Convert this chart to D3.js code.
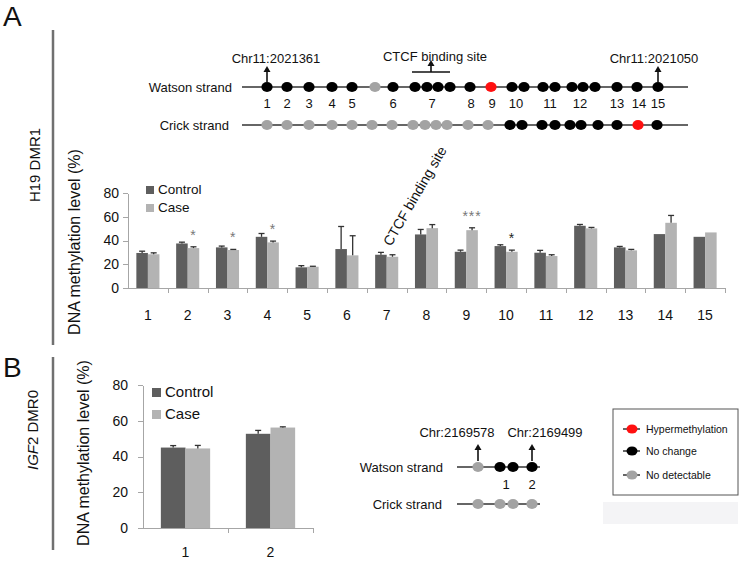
<!DOCTYPE html>
<html>

<head>
  <meta charset="utf-8" />
  <script src="https://cdn.jsdelivr.net/npm/d3@7/dist/d3.min.js"></script>
  <style>
    body {
      margin: 0;
      background: #fff;
    }

    svg text {
      font-family: Arial, "Liberation Sans", sans-serif;
      fill: #111;
    }

    .axis path,
    .axis line {
      stroke: #a6a6a6;
      shape-rendering: crispEdges;
    }

    .strand {
      stroke: #333;
      stroke-width: 1.5px;
    }
  </style>
</head>

<body>
</body>
<script>
  "use strict";

  // H19 DMR1 bar data (CpG sites 1-15)
  var sitesA = ["1", "2", "3", "4", "5", "6", "7", "8", "9", "10", "11", "12", "13", "14", "15"];
  var controlA = [29.5, 37.5, 34.2, 43.1, 17.4, 32.8, 28.0, 45.1, 30.5, 35.3, 29.7, 52.4, 34.2, 45.4, 43.1];
  var controlErrA = [1.5, 1.1, 1.1, 2.8, 1.4, 19.0, 2.0, 4.2, 1.4, 1.1, 2.0, 1.1, 0.8, 0, 0];
  var caseA = [28.4, 33.6, 32.0, 38.4, 17.9, 27.5, 26.3, 50.4, 48.7, 30.5, 26.9, 50.2, 31.7, 54.9, 46.8];
  var caseErrA = [1.2, 1.1, 0.5, 1.1, 0.4, 16.5, 1.7, 3.0, 2.0, 1.4, 1.1, 0.8, 0.8, 6.2, 0];
  var starsA = ["", "*", "*", "*", "", "", "", "", "***", "*", "", "", "", "", ""];

  // IGF2 DMR0 bar data
  var sitesB = ["1", "2"];
  var controlB = [45.0, 52.7];
  var controlErrB = [1.1, 1.9];
  var caseB = [44.5, 56.2];
  var caseErrB = [1.7, 0.4];

  var yTicks = [0, 20, 40, 60, 80];

  // CpG maps: relative position along the strand and status
  // h = hypermethylation, n = no change, g = no detectable
  var h19WatsonPos = [0, 20, 42, 65, 85, 108, 126, 148, 160, 171, 183, 203, 224, 245, 257, 276, 288, 305, 316, 328, 350, 370, 391];
  var h19WatsonStatus = ["n", "n", "n", "n", "n", "g", "n", "n", "n", "n", "n", "n", "h", "n", "n", "n", "n", "n", "n", "n", "n", "n", "n"];
  var h19CrickPos = [0, 20, 42, 65, 85, 105, 125, 146, 158, 169, 180, 201, 221, 243, 255, 275, 288, 303, 314, 331, 350, 371, 390];
  var h19CrickStatus = ["g", "g", "g", "g", "g", "g", "g", "g", "g", "g", "g", "g", "g", "n", "n", "n", "n", "n", "n", "n", "n", "h", "n"];
  var h19LabelPos = [0, 20, 42, 65, 85, 126, 165, 204, 225, 249, 283, 313, 350, 372, 391];

  var igfWatsonPos = [0, 22, 35, 54];
  var igfWatsonStatus = ["g", "n", "n", "n"];
  var igfCrickPos = [0, 22, 35, 54];
  var igfCrickStatus = ["g", "g", "g", "g"];
  var igfLabels = ["1", "2"];
  var igfLabelPos = [28, 54];

  var legendItems = ["Hypermethylation", "No change", "No detectable"];
  var legendStatus = ["h", "n", "g"];

  var statusColor = {
    h: "#ff1010",
    n: "#000",
    g: "#a3a3a3"
  };
  var controlColor = "#5e5e5e",
    caseColor = "#b3b3b3";

  var svg = d3.select("body")
    .append("svg")
    .attr("width", 742)
    .attr("height", 564);

  svg.append("rect").attr("width", 742).attr("height", 564).attr("fill", "#fff");

  // panel letters, side bars and side titles
  svg.append("text").attr("x", 3).attr("y", 26).style("font-size", "28px").text("A");
  svg.append("text").attr("x", 3).attr("y", 377).style("font-size", "28px").text("B");

  svg.append("line").attr("x1", 53).attr("x2", 53).attr("y1", 30).attr("y2", 345)
    .attr("stroke", "#707070").attr("stroke-width", 2.5);
  svg.append("line").attr("x1", 53).attr("x2", 53).attr("y1", 357).attr("y2", 550)
    .attr("stroke", "#707070").attr("stroke-width", 2.5);

  svg.append("text")
    .attr("transform", "translate(40,165) rotate(-90)")
    .attr("text-anchor", "middle")
    .style("font-size", "15px")
    .text("H19 DMR1");

  var igfTitle = svg.append("text")
    .attr("transform", "translate(38,430) rotate(-90)")
    .attr("text-anchor", "middle")
    .style("font-size", "15px");
  igfTitle.append("tspan").style("font-style", "italic").text("IGF");
  igfTitle.append("tspan").text("2 DMR0");

  // ---------- CpG strand maps ----------
  function arrowUp(g, x, y1, y2) {
    g.append("line").attr("x1", x).attr("x2", x).attr("y1", y1).attr("y2", y2 + 4)
      .attr("stroke", "#111").attr("stroke-width", 1.6);
    g.append("path")
      .attr("d", "M" + (x - 3.5) + "," + (y2 + 6) + " L" + x + "," + y2 + " L" + (x + 3.5) + "," + (y2 + 6) + " Z")
      .attr("fill", "#111");
  }

  function strand(g, scale, y, pos, status, label, labelX) {
    g.append("line").attr("class", "strand")
      .attr("x1", scale.range()[0]).attr("x2", scale.range()[1])
      .attr("y1", y).attr("y2", y);
    g.selectAll(null)
      .data(pos)
      .enter()
      .append("ellipse")
      .attr("cx", function(d) {
        return scale(d);
      })
      .attr("cy", y)
      .attr("rx", 5.6)
      .attr("ry", 5)
      .attr("fill", function(d, i) {
        return statusColor[status[i]];
      });
    g.append("text")
      .attr("x", labelX)
      .attr("y", y + 5)
      .attr("text-anchor", "end")
      .style("font-size", "13px")
      .text(label);
  }

  var mapA = svg.append("g");
  var xMapA = d3.scaleLinear().domain([-25, 421]).range([242, 688]);

  strand(mapA, xMapA, 87, h19WatsonPos, h19WatsonStatus, "Watson strand", 232);
  strand(mapA, xMapA, 125, h19CrickPos, h19CrickStatus, "Crick strand", 229);

  mapA.selectAll(null)
    .data(h19LabelPos)
    .enter()
    .append("text")
    .attr("x", function(d) {
      return xMapA(d);
    })
    .attr("y", 108)
    .attr("text-anchor", "middle")
    .style("font-size", "13px")
    .text(function(d, i) {
      return sitesA[i];
    });

  arrowUp(mapA, xMapA(0), 82, 66);
  mapA.append("text").attr("x", xMapA(0) + 9).attr("y", 63).attr("text-anchor", "middle")
    .style("font-size", "13px").text("Chr11:2021361");

  arrowUp(mapA, xMapA(391), 82, 66);
  mapA.append("text").attr("x", xMapA(391) - 4).attr("y", 63).attr("text-anchor", "middle")
    .style("font-size", "13px").text("Chr11:2021050");

  mapA.append("line").attr("x1", xMapA(145)).attr("x2", xMapA(183)).attr("y1", 72).attr("y2", 72)
    .attr("stroke", "#111").attr("stroke-width", 1.4);
  arrowUp(mapA, xMapA(164), 72, 60);
  mapA.append("text").attr("x", xMapA(168)).attr("y", 61).attr("text-anchor", "middle")
    .style("font-size", "13px").text("CTCF binding site");

  var mapB = svg.append("g");
  var xMapB = d3.scaleLinear().domain([-21, 62]).range([457, 540]);

  strand(mapB, xMapB, 467, igfWatsonPos, igfWatsonStatus, "Watson strand", 443);
  strand(mapB, xMapB, 504, igfCrickPos, igfCrickStatus, "Crick strand", 442);

  mapB.selectAll(null)
    .data(igfLabelPos)
    .enter()
    .append("text")
    .attr("x", function(d) {
      return xMapB(d);
    })
    .attr("y", 489)
    .attr("text-anchor", "middle")
    .style("font-size", "13px")
    .text(function(d, i) {
      return igfLabels[i];
    });

  arrowUp(mapB, xMapB(0), 461, 444);
  mapB.append("text").attr("x", xMapB(0) - 21).attr("y", 437).attr("text-anchor", "middle")
    .style("font-size", "13px").text("Chr:2169578");
  arrowUp(mapB, xMapB(54), 461, 444);
  mapB.append("text").attr("x", xMapB(54) + 13).attr("y", 437).attr("text-anchor", "middle")
    .style("font-size", "13px").text("Chr:2169499");

  // status legend
  var leg = svg.append("g");
  leg.append("rect").attr("x", 613).attr("y", 409).attr("width", 125).attr("height", 86)
    .attr("fill", "#fff").attr("stroke", "#555").attr("stroke-width", 1);
  leg.append("rect").attr("x", 603).attr("y", 502).attr("width", 135).attr("height", 22)
    .attr("fill", "#f4f4f6");
  var legItem = leg.selectAll("g.item")
    .data(legendItems)
    .enter()
    .append("g")
    .attr("class", "item")
    .attr("transform", function(d, i) {
      return "translate(632," + [429, 451, 475][i] + ")";
    });
  legItem.append("line").attr("x1", -9).attr("x2", 8).attr("stroke", "#333").attr("stroke-width", 1.5);
  legItem.append("ellipse").attr("rx", 5.5).attr("ry", 4.5)
    .attr("fill", function(d, i) {
      return statusColor[legendStatus[i]];
    });
  legItem.append("text").attr("x", 14).attr("y", 4).style("font-size", "10.5px")
    .text(function(d) {
      return d;
    });

  // ---------- bar charts ----------
  function barChart(opt) {
    var g = svg.append("g");
    var x = d3.scaleBand().domain(opt.sites).range([opt.x0, opt.x1]);
    var sub = d3.scaleBand().domain(["control", "case"])
      .range([x.bandwidth() * 0.21, x.bandwidth() * 0.79]);
    var y = d3.scaleLinear().domain([0, 80]).range([opt.y0, opt.y1]);
    var edge = d3.scaleLinear().domain([0, opt.sites.length]).range([opt.x0, opt.x1]);

    g.append("g")
      .attr("class", "axis")
      .attr("transform", "translate(" + opt.x0 + ",0)")
      .call(d3.axisLeft(y).tickValues(yTicks).tickSize(5).tickSizeOuter(0).tickPadding(opt.tickPad))
      .selectAll("text")
      .style("font-size", opt.tickFont)
      .attr("fill", "#111");

    g.append("g")
      .attr("class", "axis")
      .attr("transform", "translate(0," + opt.y0 + ")")
      .call(d3.axisBottom(edge).tickValues(d3.range(1, opt.sites.length + 1)).tickSize(5)
        .tickSizeOuter(0).tickFormat(""));

    var lab = g.append("g")
      .attr("transform", "translate(0," + opt.y0 + ")")
      .call(d3.axisBottom(x).tickSize(0).tickPadding(opt.labelPad));
    lab.select(".domain").remove();
    lab.selectAll("text").style("font-size", "14px").attr("fill", "#111");

    var rows = [];
    opt.sites.forEach(function(s, i) {
      rows.push({ site: s, key: "control", v: opt.control[i], e: opt.controlErr[i] });
      rows.push({ site: s, key: "case", v: opt.caseV[i], e: opt.caseErr[i] });
    });

    g.selectAll("rect.bar")
      .data(rows)
      .enter()
      .append("rect")
      .attr("class", "bar")
      .attr("x", function(d) {
        return x(d.site) + sub(d.key);
      })
      .attr("width", sub.bandwidth())
      .attr("y", function(d) {
        return y(d.v);
      })
      .attr("height", function(d) {
        return y(0) - y(d.v);
      })
      .attr("fill", function(d) {
        return d.key === "control" ? controlColor : caseColor;
      });

    var err = g.selectAll("g.err")
      .data(rows.filter(function(d) {
        return d.e > 0;
      }))
      .enter()
      .append("g")
      .attr("class", "err")
      .attr("transform", function(d) {
        return "translate(" + (x(d.site) + sub(d.key) + sub.bandwidth() / 2) + ",0)";
      });
    err.append("line")
      .attr("y1", function(d) {
        return y(d.v);
      })
      .attr("y2", function(d) {
        return y(d.v + d.e);
      })
      .attr("stroke", "#333").attr("stroke-width", 1.3);
    err.append("line")
      .attr("x1", -3).attr("x2", 3)
      .attr("y1", function(d) {
        return y(d.v + d.e);
      })
      .attr("y2", function(d) {
        return y(d.v + d.e);
      })
      .attr("stroke", "#333").attr("stroke-width", 1.3);

    // legend
    var lg = g.append("g");
    ["Control", "Case"].forEach(function(name, i) {
      lg.append("rect")
        .attr("x", opt.legX).attr("y", opt.legY + i * opt.legStep)
        .attr("width", opt.legBox).attr("height", opt.legBox)
        .attr("fill", i === 0 ? controlColor : caseColor);
      lg.append("text")
        .attr("x", opt.legX + opt.legBox + 4)
        .attr("y", opt.legY + i * opt.legStep + opt.legBox)
        .style("font-size", opt.legFont)
        .text(name);
    });

    // y title
    g.append("text")
      .attr("transform", "translate(" + opt.titleX + "," + opt.titleY + ") rotate(-90)")
      .attr("text-anchor", "middle")
      .style("font-size", "16px")
      .text("DNA methylation level (%)");

    return { g: g, x: x, sub: sub, y: y };
  }

  var chartA = barChart({
    sites: sitesA,
    control: controlA,
    controlErr: controlErrA,
    caseV: caseA,
    caseErr: caseErrA,
    x0: 128,
    x1: 725,
    y0: 288,
    y1: 193,
    tickPad: 4,
    tickFont: "14px",
    labelPad: 22,
    legX: 146,
    legY: 186,
    legStep: 18,
    legBox: 8,
    legFont: "13.5px",
    titleX: 80,
    titleY: 242
  });

  // significance marks
  chartA.g.selectAll("text.star")
    .data(sitesA)
    .enter()
    .append("text")
    .attr("class", "star")
    .attr("x", function(d) {
      return chartA.x(d) + chartA.sub("case") + chartA.sub.bandwidth() / 2;
    })
    .attr("y", function(d, i) {
      return chartA.y(caseA[i] + caseErrA[i]) - 7;
    })
    .attr("text-anchor", "middle")
    .style("font-size", "14px")
    .style("letter-spacing", "1px")
    .style("fill", function(d, i) {
      return i === 9 ? "#222" : "#777";
    })
    .text(function(d, i) {
      return starsA[i];
    });

  chartA.g.append("text")
    .attr("transform", "translate(391,247) rotate(-60)")
    .style("font-size", "14px")
    .text("CTCF binding site");

  barChart({
    sites: sitesB,
    control: controlB,
    controlErr: controlErrB,
    caseV: caseB,
    caseErr: caseErrB,
    x0: 143,
    x1: 313,
    y0: 528,
    y1: 385,
    tickPad: 10,
    tickFont: "14px",
    labelPad: 19,
    legX: 152,
    legY: 388,
    legStep: 22,
    legBox: 9,
    legFont: "15px",
    titleX: 89,
    titleY: 453
  });
</script>

</html>
